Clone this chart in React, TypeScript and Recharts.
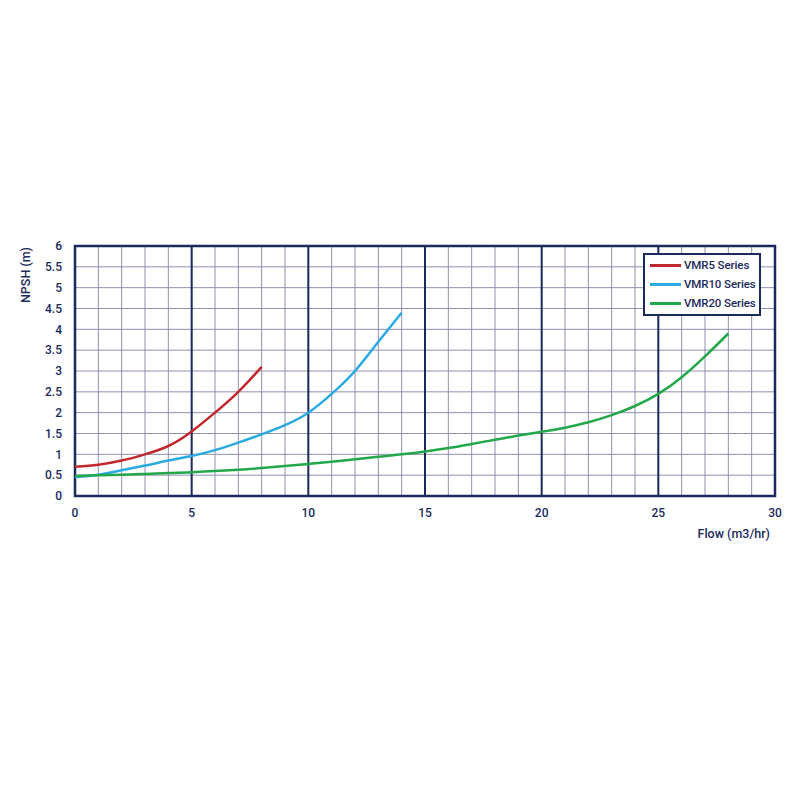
import React from "react";
import {
  LineChart,
  Line,
  XAxis,
  YAxis,
  CartesianGrid,
  ReferenceLine,
  ReferenceArea,
} from "recharts";

const xTicks = [0, 1, 2, 3, 4, 5, 6, 7, 8, 9, 10, 11, 12, 13, 14, 15, 16, 17, 18, 19, 20, 21, 22, 23, 24, 25, 26, 27, 28, 29, 30];
const xMajor = [5, 10, 15, 20, 25];
const yTicks = [0, 0.5, 1, 1.5, 2, 2.5, 3, 3.5, 4, 4.5, 5, 5.5, 6];

const vmr5Flow = [0, 1, 2, 3, 4, 5, 6, 7, 8];
const vmr5Npsh = [0.7, 0.75, 0.85, 1.0, 1.2, 1.55, 2.0, 2.5, 3.1];

const vmr10Flow = [0, 1, 2, 3, 4, 5, 6, 7, 8, 9, 10, 11, 12, 13, 14];
const vmr10Npsh = [0.45, 0.51, 0.62, 0.73, 0.85, 0.96, 1.1, 1.28, 1.48, 1.7, 2.0, 2.45, 3.0, 3.7, 4.4];

const vmr20Flow = [0, 1, 2, 3, 4, 5, 6, 7, 8, 9, 10, 11, 12, 13, 14, 15, 16, 17, 18, 19, 20, 21, 22, 23, 24, 25, 26, 27, 28];
const vmr20Npsh = [0.48, 0.5, 0.51, 0.53, 0.55, 0.57, 0.6, 0.63, 0.67, 0.72, 0.77, 0.82, 0.88, 0.94, 1.0, 1.07, 1.15, 1.25, 1.35, 1.45, 1.54, 1.64, 1.77, 1.94, 2.16, 2.45, 2.85, 3.35, 3.9];

const seriesNames = ["VMR5 Series", "VMR10 Series", "VMR20 Series"];
const seriesColors = ["#c1272d", "#29abe2", "#22a84a"];

const NAVY = "#1b2a5c";
const MINOR = "#8f90b2";
const FONT = "Roboto, sans-serif";

const toPoints = (xs: number[], ys: number[]) => xs.map((x, i) => ({ flow: x, npsh: ys[i] }));

const series = [
  toPoints(vmr5Flow, vmr5Npsh),
  toPoints(vmr10Flow, vmr10Npsh),
  toPoints(vmr20Flow, vmr20Npsh),
];

// legend drawn as a plain box over the plot, top right
function LegendBox() {
  return (
    <div
      style={{
        position: "absolute",
        left: 643,
        top: 253,
        width: 118,
        boxSizing: "border-box",
        border: `2px solid ${NAVY}`,
        background: "#fff",
        padding: "1px 0 1px 5px",
        fontFamily: FONT,
        fontWeight: 500,
        fontSize: 11.5,
        letterSpacing: -0.1,
        color: NAVY,
        lineHeight: "19px",
      }}
    >
      {seriesNames.map((name, i) => (
        <div key={name} style={{ display: "flex", alignItems: "center", whiteSpace: "nowrap" }}>
          <span style={{ display: "inline-block", width: 31, height: 2.5, background: seriesColors[i], marginRight: 3 }} />
          <span>{name}</span>
        </div>
      ))}
    </div>
  );
}

export default function App() {
  return (
    <div style={{ position: "absolute", left: 0, top: 0, width: 800, height: 800, background: "#fff" }}>
      <LineChart width={800} height={800} margin={{ top: 246, right: 25, bottom: 274, left: 25 }}>
        <CartesianGrid stroke={MINOR} strokeWidth={1} />
        <XAxis
          type="number"
          dataKey="flow"
          domain={[0, 30]}
          ticks={xTicks}
          interval={0}
          height={30}
          axisLine={false}
          tickLine={false}
          tickMargin={6}
          tickFormatter={(v: number) => (v % 5 === 0 ? String(v) : "")}
          tick={{ fill: NAVY, fontSize: 12, fontFamily: FONT, fontWeight: 500 }}
          label={{
            content: () => (
              <text x={770} y={538} textAnchor="end" fill={NAVY} fontSize={12.5} fontFamily={FONT} fontWeight={500}>
                Flow (m3/hr)
              </text>
            ),
          }}
        />
        <YAxis
          type="number"
          domain={[0, 6]}
          ticks={yTicks}
          interval={0}
          width={50}
          axisLine={false}
          tickLine={false}
          tickMargin={7}
          tick={{ fill: NAVY, fontSize: 12, fontFamily: FONT, fontWeight: 500 }}
          label={{
            content: () => (
              <text
                x={30}
                y={275}
                transform="rotate(-90 30 275)"
                textAnchor="middle"
                fill={NAVY}
                fontSize={12.5}
                fontFamily={FONT}
                fontWeight={500}
              >
                NPSH (m)
              </text>
            ),
          }}
        />
        {xMajor.map((x) => (
          <ReferenceLine key={x} x={x} stroke={NAVY} strokeWidth={2} />
        ))}
        <ReferenceArea x1={0} x2={30} y1={0} y2={6} fill="none" stroke={NAVY} strokeWidth={2.5} fillOpacity={0} />
        {series.map((data, i) => (
          <Line
            key={seriesNames[i]}
            data={data}
            dataKey="npsh"
            name={seriesNames[i]}
            type="natural"
            stroke={seriesColors[i]}
            strokeWidth={2.5}
            dot={false}
            isAnimationActive={false}
          />
        ))}
      </LineChart>
      <LegendBox />
    </div>
  );
}
